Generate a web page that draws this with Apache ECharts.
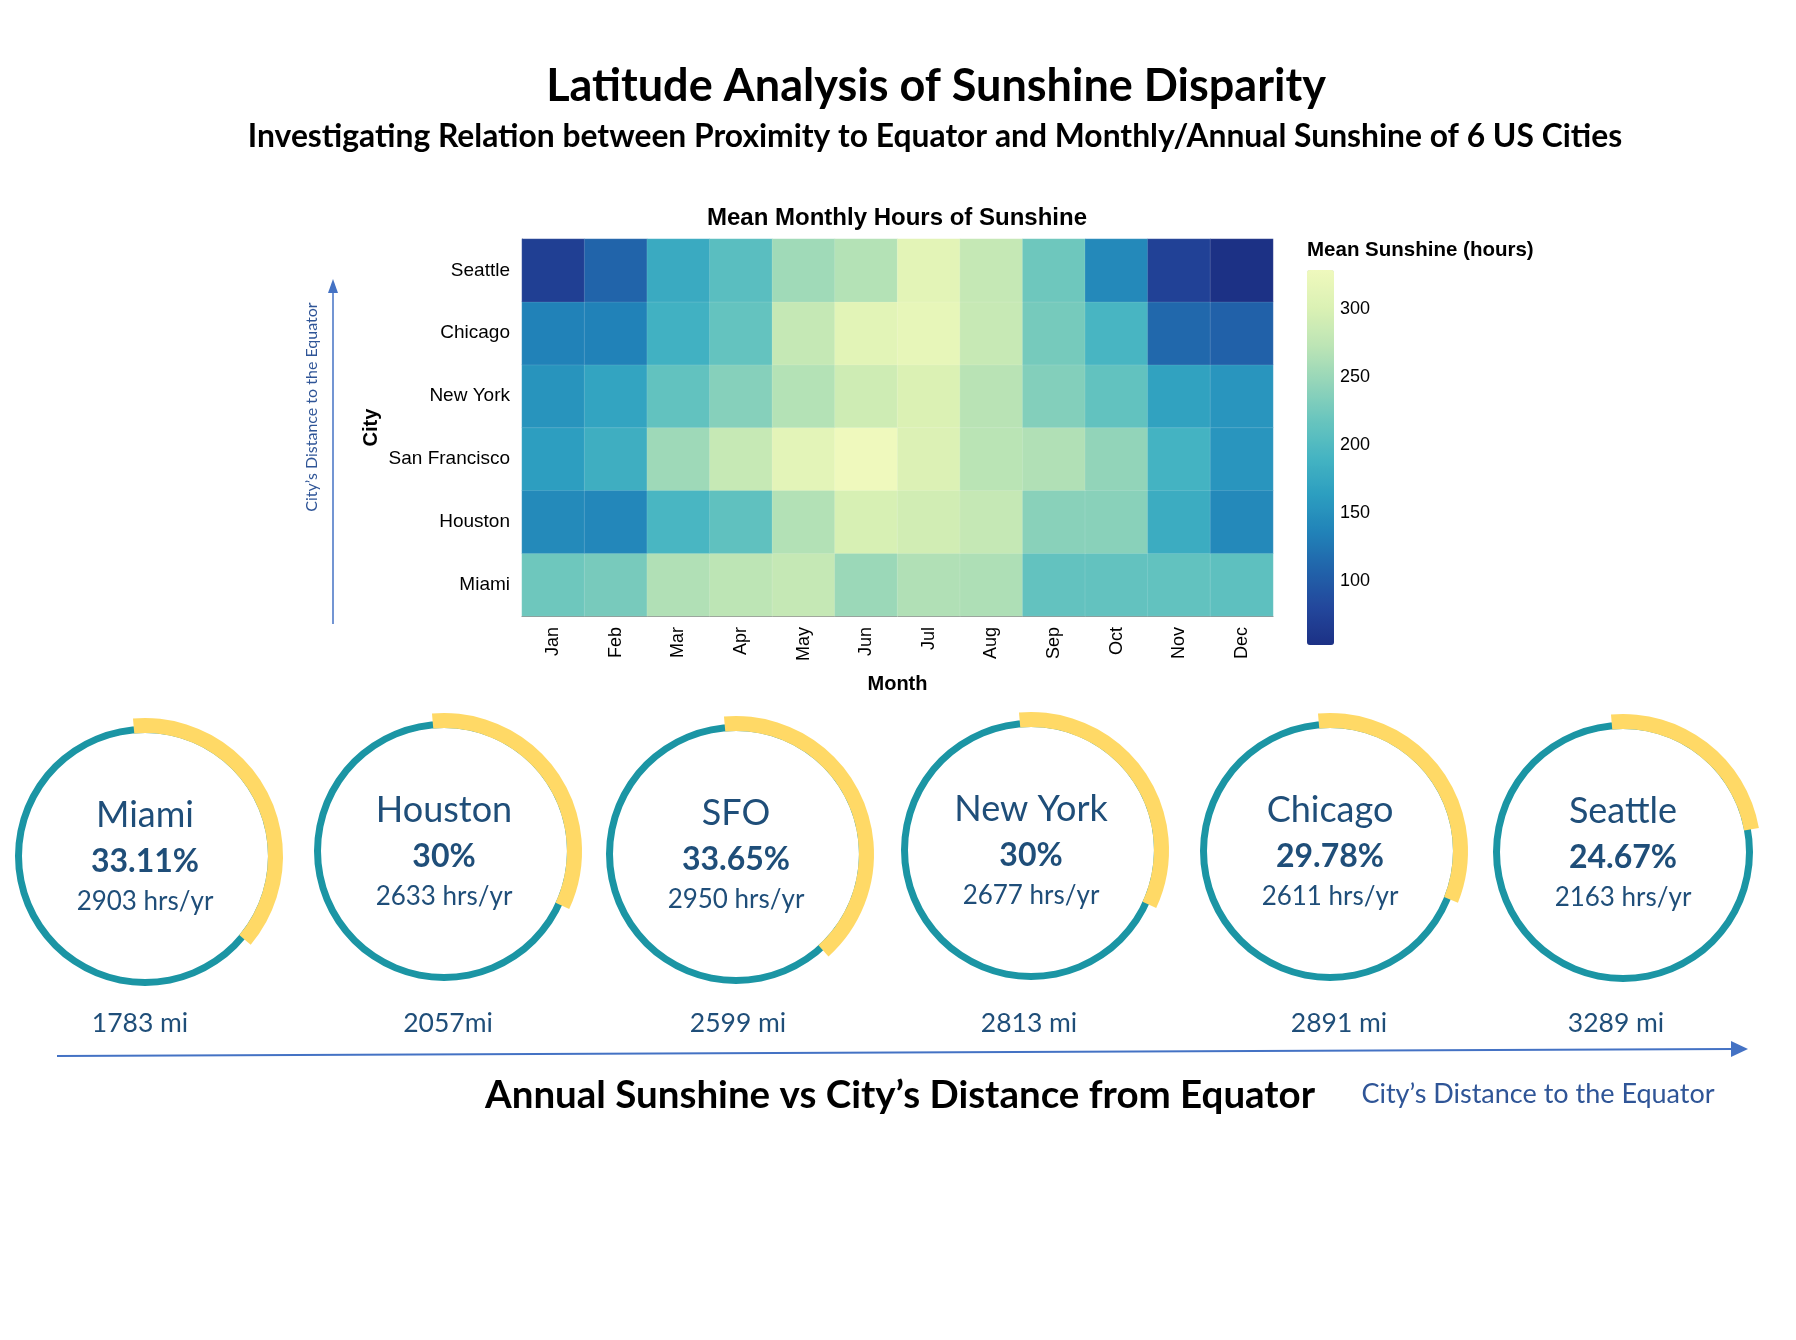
<!DOCTYPE html>
<html><head><meta charset="utf-8">
<script src="https://cdn.jsdelivr.net/npm/echarts@6/dist/echarts.min.js"></script>
<style>html,body{margin:0;padding:0;background:#fff}#c{width:1796px;height:1340px}</style>
</head><body><div id="c"></div>
<script>
// ---------- data ----------
const months = ['Jan','Feb','Mar','Apr','May','Jun','Jul','Aug','Sep','Oct','Nov','Dec'];
const cities = ['Miami','Houston','San Francisco','New York','Chicago','Seattle'];
const miami        = [222,228,266,274,281,251,266,264,214,214,213,210];
const houston      = [144,141,194,212,267,298,292,281,239,239,181,143];
const sanFrancisco = [164,184,253,282,313,329,303,272,266,245,190,155];
const newYork      = [154,171,213,237,268,289,302,271,235,213,169,155];
const chicago      = [136,136,187,215,281,311,318,283,227,193,113,106];
const seattle      = [70,109,179,207,254,268,312,281,222,143,73,53];

const ringNames    = ['Miami','Houston','SFO','New York','Chicago','Seattle'];
const ringPercent  = ['33.11%','30%','33.65%','30%','29.78%','24.67%'];
const ringHours    = [2903,2633,2950,2677,2611,2163];
const ringDistance = ['1783 mi','2057mi','2599 mi','2813 mi','2891 mi','3289 mi'];
const ringSunArc   = [37.5,33.3,39.7,33.3,32.5,23.6]; // share of ring drawn yellow (read from arcs)

const legendTicks = [100,150,200,250,300];

// ---------- layout ----------
const ringX = [145,444,736,1031,1330,1623];
const ringY = [856,851,854,850,851,852];
const distX = [140,448,738,1029,1339,1616];

const rows = [miami, houston, sanFrancisco, newYork, chicago, seattle];
const heatData = [];
rows.forEach((r, yi) => r.forEach((v, xi) => heatData.push([xi, yi, v])));
const allVals = rows.flat();
const vMin = Math.min(...allVals), vMax = Math.max(...allVals);

const ylgnbu = ['#1c3185','#23479c','#2163aa','#2182b8','#2c9ec0','#45b4c2','#69c5be','#94d5b9','#bde5b5','#dbf1b4','#eff9bd'];
const VF = "'Liberation Sans', Arial, sans-serif";
const PF = "Lato, 'Open Sans', sans-serif";
const TEAL = '#1b95a4', YEL = '#ffd966', NAVY = '#1f4e79', BLUE = '#4472c4';

function txt(x, y, text, font, fill, extra) {
  return Object.assign({
    type: 'text', x: x, y: y, silent: true,
    style: { text: text, font: font, fill: fill, align: 'center', verticalAlign: 'middle',
             textAlign: 'center', textVerticalAlign: 'middle' }
  }, extra || {});
}

const graphics = [
  txt(936, 86, 'Latitude Analysis of Sunshine Disparity', 'bold 45px ' + PF, '#000'),
  txt(935, 137, 'Investigating Relation between Proximity to Equator and Monthly/Annual Sunshine of 6 US Cities', 'bold 31.8px ' + PF, '#000'),
  txt(897, 218, 'Mean Monthly Hours of Sunshine', 'bold 24px ' + VF, '#000'),
  { type: 'text', x: 1307, y: 250, silent: true,
    style: { text: 'Mean Sunshine (hours)', font: 'bold 20.5px ' + VF, fill: '#000',
             align: 'left', verticalAlign: 'middle', textAlign: 'left', textVerticalAlign: 'middle' } },
  // vertical arrow
  { type: 'line', silent: true, shape: { x1: 333, y1: 624, x2: 333, y2: 292 }, style: { stroke: BLUE, lineWidth: 1.5 } },
  { type: 'polygon', silent: true, shape: { points: [[333, 279], [328, 293], [338, 293]] }, style: { fill: BLUE } },
  txt(312, 407, 'City’s Distance to the Equator', '16px ' + PF, '#2f5597', { rotation: Math.PI / 2 }),
  // bottom arrow
  { type: 'line', silent: true, shape: { x1: 57, y1: 1056, x2: 1733, y2: 1049 }, style: { stroke: BLUE, lineWidth: 2 } },
  { type: 'polygon', silent: true, shape: { points: [[1748, 1049], [1731, 1041], [1731, 1057]] }, style: { fill: BLUE } },
  txt(900, 1096, 'Annual Sunshine vs City’s Distance from Equator', 'bold 38.5px ' + PF, '#000'),
  txt(1538, 1094, 'City’s Distance to the Equator', '27px ' + PF, '#2f5597')
];

ringNames.forEach((n, i) => {
  graphics.push(txt(ringX[i], ringY[i] - 41, n, '36px ' + PF, NAVY));
  graphics.push(txt(ringX[i], ringY[i] + 6, ringPercent[i], 'bold 32px ' + PF, NAVY));
  graphics.push(txt(ringX[i], ringY[i] + 46, ringHours[i] + ' hrs/yr', '26px ' + PF, NAVY));
  graphics.push(txt(distX[i], 1023, ringDistance[i], '26.5px ' + PF, NAVY));
});

const series = [{
  type: 'heatmap', xAxisIndex: 0, yAxisIndex: 0, data: heatData,
  itemStyle: { borderColor: 'rgba(255,255,255,0.12)', borderWidth: 1 },
  emphasis: { disabled: true }
}];

ringNames.forEach((n, i) => {
  series.push({
    type: 'pie', silent: true, center: [ringX[i], ringY[i]], radius: [123, 130],
    label: { show: false }, labelLine: { show: false }, emphasis: { disabled: true },
    data: [{ value: 100, name: n, itemStyle: { color: TEAL } }]
  });
  series.push({
    type: 'pie', silent: true, center: [ringX[i], ringY[i]], radius: [123, 138], startAngle: 95,
    label: { show: false }, labelLine: { show: false }, emphasis: { disabled: true },
    data: [
      { value: ringSunArc[i], name: n + ' sun', itemStyle: { color: YEL } },
      { value: 100 - ringSunArc[i], name: n + ' rest', itemStyle: { color: 'rgba(0,0,0,0)' } }
    ]
  });
});

const chart = echarts.init(document.getElementById('c'), null, { renderer: 'canvas' });
chart.setOption({
  backgroundColor: '#fff',
  animation: false,
  grid: [
    { left: 522, top: 239, width: 751, height: 377 },
    { left: 1307, top: 270, width: 27, height: 375 }
  ],
  xAxis: [
    { type: 'category', gridIndex: 0, data: months,
      name: 'Month', nameLocation: 'middle', nameGap: 58,
      nameTextStyle: { fontFamily: VF, fontWeight: 'bold', fontSize: 20, color: '#000' },
      axisLine: { lineStyle: { color: '#888', width: 1 } },
      axisTick: { alignWithLabel: true, length: 5, lineStyle: { color: '#888' } },
      axisLabel: { rotate: 90, fontFamily: VF, fontSize: 18, color: '#000', margin: 11 },
      splitLine: { show: false } },
    { gridIndex: 1, type: 'value', show: false }
  ],
  yAxis: [
    { type: 'category', gridIndex: 0, data: cities,
      name: 'City', nameLocation: 'middle', nameGap: 141, nameRotate: 90,
      nameTextStyle: { fontFamily: VF, fontWeight: 'bold', fontSize: 20, color: '#000' },
      axisLine: { lineStyle: { color: '#888', width: 1 } },
      axisTick: { alignWithLabel: true, length: 5, lineStyle: { color: '#888' } },
      axisLabel: { fontFamily: VF, fontSize: 19, color: '#000', margin: 12 },
      splitLine: { show: false } },
    { type: 'value', gridIndex: 1, min: vMin, max: vMax, position: 'right',
      axisLine: { show: false }, axisTick: { show: false }, splitLine: { show: false },
      axisLabel: { fontFamily: VF, fontSize: 18, color: '#000', margin: 6,
        showMinLabel: false, showMaxLabel: false,
        formatter: v => legendTicks.indexOf(v) >= 0 ? String(v) : '' } }
  ],
  visualMap: {
    type: 'continuous', seriesIndex: 0, min: vMin, max: vMax, calculable: false,
    left: 1307, top: 270, itemWidth: 27, itemHeight: 375, padding: 0, text: null,
    inRange: { color: ylgnbu }
  },
  graphic: graphics,
  series: series
});
</script></body></html>
